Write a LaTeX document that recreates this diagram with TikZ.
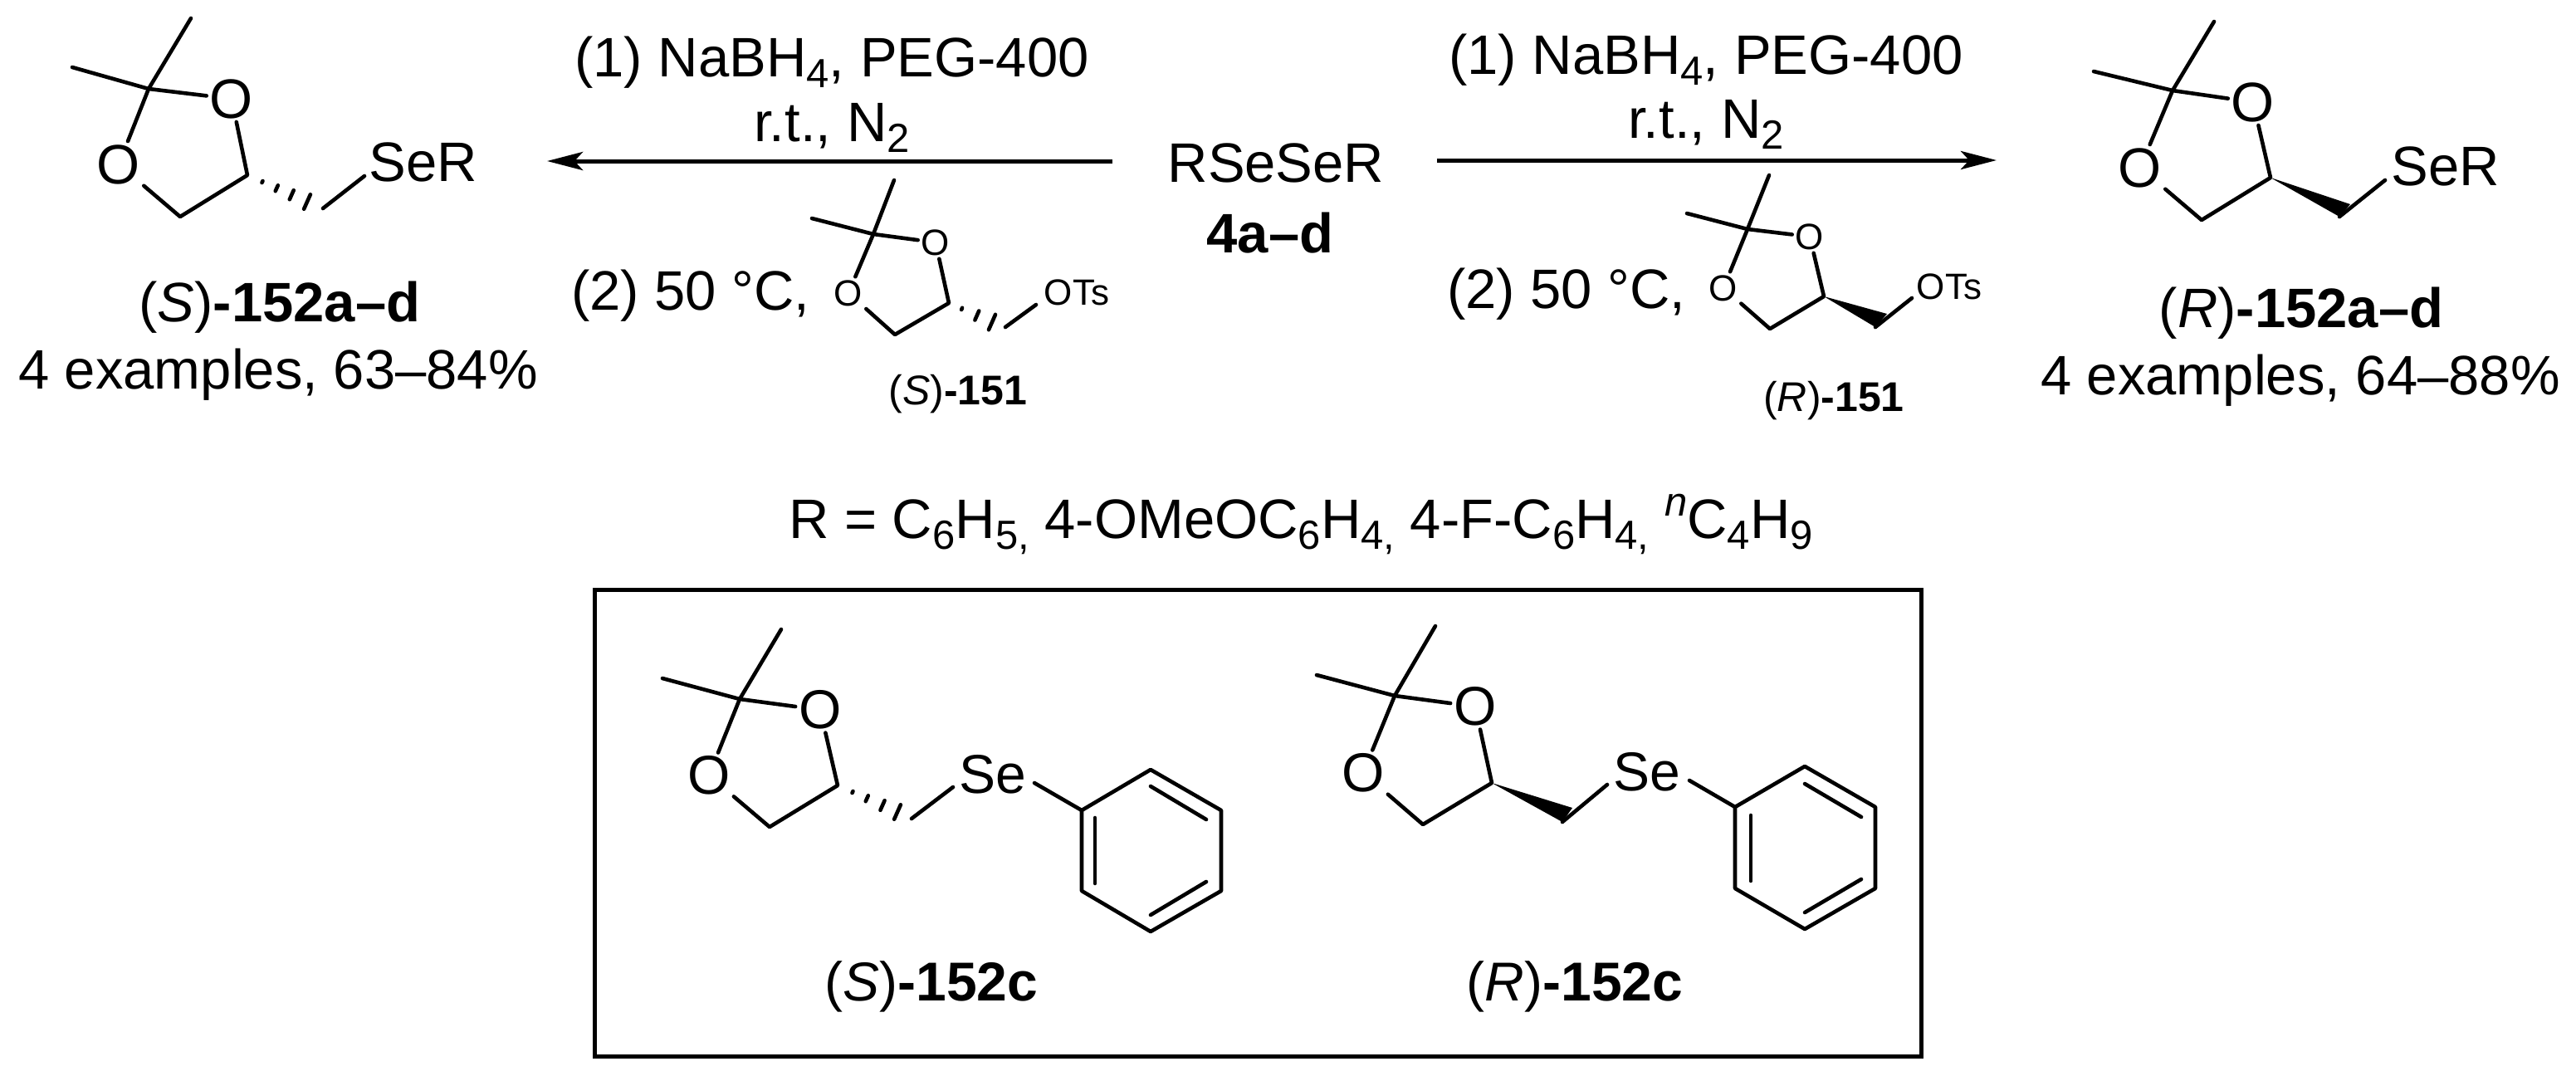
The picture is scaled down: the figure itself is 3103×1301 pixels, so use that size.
\documentclass[tikz,border=0pt]{standalone}
\usepackage{fontspec}
\setmainfont{Liberation Sans}
\usetikzlibrary{arrows.meta,calc}
\newcommand\fsbig{\fontsize{33.5pt}{40pt}\selectfont}
\newcommand\fslab{\fontsize{33pt}{40pt}\selectfont}
\newcommand\fssmall{\fontsize{22pt}{26pt}\selectfont}
\newcommand\fsmid{\fontsize{25pt}{30pt}\selectfont}
\newcommand\subs[1]{\raisebox{-6.5pt}{\fontsize{24.5pt}{28pt}\selectfont #1}}
\newcommand\sups[1]{\raisebox{13.5pt}{\fontsize{24.5pt}{28pt}\selectfont #1}}
\tikzset{
  bond/.style={line width=2.3pt,line cap=round,line join=round},
  hashl/.style={line width=2.3pt,line cap=round},
  txt/.style={inner sep=0pt,outer sep=0pt,anchor=base},
  txtw/.style={inner sep=0pt,outer sep=0pt,anchor=base west},
  atom/.style={inner sep=2.1pt,outer sep=0pt},
  rxn/.style={line width=2.5pt,-{Stealth[length=21.5pt,width=11pt,inset=5pt]}},
  framebox/.style={line width=2.5pt}
}
% dioxolane ring: prefix, font, Me1, Me2, Cq, O1, O2, C4, C5
\newcommand\dioxo[9]{%
  \coordinate (#1me1) at (#3);
  \coordinate (#1me2) at (#4);
  \coordinate (#1cq) at (#5);
  \node[atom,font=#2] (#1oa) at (#6) {O};
  \node[atom,font=#2] (#1ob) at (#7) {O};
  \coordinate (#1c4) at (#8);
  \coordinate (#1c5) at (#9);
  \draw[bond] (#1me1) -- (#1cq) -- (#1ob);
  \draw[bond] (#1me2) -- (#1cq) -- (#1oa);
  \draw[bond] (#1oa) -- (#1c4) -- (#1c5) -- (#1ob);
}
\newcommand\hashb[3]{%
  \foreach \t/\w in {#3}{
    \draw[hashl] ($(#1)!\t!(#2)!\w!90:(#1)$) -- ($(#1)!\t!(#2)!\w!-90:(#1)$);
  }
}
\begin{document}
\begin{tikzpicture}[x=0.5pt,y=-0.5pt]
\useasboundingbox (0,0) rectangle (3103,1301);
% top left product
\dioxo{a}{\fsbig}{230,22}{87,81}{179,107}{279,119}{143,198}{298,211}{217,261}
\coordinate (ah) at (370,243);
\hashb{ac4}{ah}{0.25/0.6pt,0.49/1.9pt,0.74/3pt,1/4.8pt}
\coordinate (ae) at (389,251);
\coordinate (ase) at (439,212);
\draw[bond] (ae) -- (ase);
\node[txt,font=\fsbig] (aser) at (510,218) {SeR};
\node[txt,font=\fsbig] (alab) at (337,387) {(\textit{S})\textbf{-152a–d}};
\node[txt,font=\fsbig] (ayld) at (335,468) {4 examples, 63–84\%};
% top right product
\dioxo{b}{\fsbig}{2667,26}{2522,86}{2617,109}{2714,123}{2578,202}{2735,214}{2652,265}
\coordinate (bw1) at (2831,246);
\coordinate (bw2) at (2818,261);
\fill (bc4) -- (bw1) -- (bw2) -- cycle;
\coordinate (bse) at (2873,217);
\draw[bond] (bw2) -- (bse);
\node[txt,font=\fsbig] (bser) at (2946,223) {SeR};
\node[txt,font=\fsbig] (blab) at (2772,394) {(\textit{R})\textbf{-152a–d}};
\node[txt,font=\fsbig] (byld) at (2771,475) {4 examples, 64–88\%};
% centre
\node[txt,font=\fsbig] (rs) at (1537,219) {RSeSeR};
\node[txt,font=\fsbig] (rsn) at (1530,304) {\textbf{4a–d}};
% arrows
\coordinate (l1) at (1340,194);
\coordinate (l2) at (659,194);
\coordinate (r1) at (1731,193);
\coordinate (r2) at (2405,193);
\draw[rxn] (l1) -- (l2);
\draw[rxn] (r1) -- (r2);
% conditions
\node[txt,font=\fsbig] (c1) at (1002,92) {(1) NaBH\subs{4}, PEG-400};
\node[txt,font=\fsbig] (c2) at (1002,170) {r.t., N\subs{2}};
\node[txtw,font=\fsbig] (c3) at (688,373) {(2) 50 °C,};
\node[txt,font=\fsbig] (d1) at (2055,89) {(1) NaBH\subs{4}, PEG-400};
\node[txt,font=\fsbig] (d2) at (2055,166) {r.t., N\subs{2}};
\node[txtw,font=\fsbig] (d3) at (1743,371) {(2) 50 °C,};
% small tosylate S
\dioxo{c}{\fssmall}{1077,217}{978,263}{1052,282}{1127,292}{1022,353}{1143,365}{1078,403}
\coordinate (ch) at (1195,388);
\hashb{cc4}{ch}{0.3/0.6pt,0.65/3pt,1/5pt}
\coordinate (ce) at (1211,394);
\coordinate (cot) at (1248,367);
\draw[bond] (ce) -- (cot);
\node[txt,font=\fssmall] (cots) at (1297,367) {OTs};
\node[txt,font=\fsmid] (clab) at (1154,487) {(\textit{S})\textbf{-151}};
% small tosylate R
\dioxo{d}{\fssmall}{2131,211}{2032,257}{2105,276}{2180,285}{2076,347}{2197,357}{2132,396}
\coordinate (dw1) at (2273,378);
\coordinate (dw2) at (2259,394);
\fill (dc4) -- (dw1) -- (dw2) -- cycle;
\coordinate (dot) at (2303,359);
\draw[bond] (dw2) -- (dot);
\node[txt,font=\fssmall] (dots) at (2348,360) {OTs};
\node[txt,font=\fsmid] (dlab) at (2209,495) {(\textit{R})\textbf{-151}};
% R line
\node[txt,font=\fsbig] (rdef) at (1567,648) {R = C\subs{6}H\subs{5,} 4-OMeOC\subs{6}H\subs{4,} 4-F-C\subs{6}H\subs{4,} \sups{\textit{n}}C\subs{4}H\subs{9}};
% frame
\coordinate (fa) at (716,710);
\coordinate (fb) at (2314,1272);
\draw[framebox] (fa) rectangle (fb);
% box S
\dioxo{e}{\fslab}{941,758}{798,817}{891,842}{988,855}{854,934}{1009,946}{927,996}
\coordinate (eh) at (1081,978);
\hashb{ec4}{eh}{0.25/0.6pt,0.49/1.9pt,0.75/3.2pt,1/4.8pt}
\coordinate (ee) at (1098,986);
\coordinate (es) at (1148,948);
\draw[bond] (ee) -- (es);
\node[txt,font=\fslab] (ese) at (1196,955) {Se};
\coordinate (e1) at (1303,976);
\coordinate (e2) at (1386,927);
\coordinate (e3) at (1471,976);
\coordinate (e4) at (1471,1073);
\coordinate (e5) at (1386,1122);
\coordinate (e6) at (1303,1073);
\coordinate (es2) at (1246,943);
\draw[bond] (es2) -- (e1);
\draw[bond] (e1) -- (e2) -- (e3) -- (e4) -- (e5) -- (e6) -- cycle;
\coordinate (ei1) at (1319,985);
\coordinate (ei2) at (1319,1064);
\coordinate (ei3) at (1386,947);
\coordinate (ei4) at (1453,987);
\coordinate (ei5) at (1453,1062);
\coordinate (ei6) at (1386,1102);
\draw[bond] (ei1) -- (ei2);
\draw[bond] (ei3) -- (ei4);
\draw[bond] (ei5) -- (ei6);
\node[txt,font=\fslab] (elab) at (1122,1205) {(\textit{S})\textbf{-152c}};
% box R
\dioxo{f}{\fslab}{1729,754}{1586,813}{1680,838}{1777,851}{1642,931}{1797,943}{1714,993}
\coordinate (fw1) at (1894,973);
\coordinate (fw2) at (1882,990);
\fill (fc4) -- (fw1) -- (fw2) -- cycle;
\coordinate (fs) at (1936,945);
\draw[bond] (fw2) -- (fs);
\node[txt,font=\fslab] (fse) at (1984,952) {Se};
\coordinate (f1) at (2090,972);
\coordinate (f2) at (2174,923);
\coordinate (f3) at (2259,972);
\coordinate (f4) at (2259,1070);
\coordinate (f5) at (2174,1119);
\coordinate (f6) at (2090,1070);
\coordinate (fs2) at (2035,940);
\draw[bond] (fs2) -- (f1);
\draw[bond] (f1) -- (f2) -- (f3) -- (f4) -- (f5) -- (f6) -- cycle;
\coordinate (fi1) at (2109,982);
\coordinate (fi2) at (2109,1061);
\coordinate (fi3) at (2174,944);
\coordinate (fi4) at (2242,984);
\coordinate (fi5) at (2242,1059);
\coordinate (fi6) at (2174,1099);
\draw[bond] (fi1) -- (fi2);
\draw[bond] (fi3) -- (fi4);
\draw[bond] (fi5) -- (fi6);
\node[txt,font=\fslab] (flab) at (1897,1205) {(\textit{R})\textbf{-152c}};
\end{tikzpicture}
\end{document}
